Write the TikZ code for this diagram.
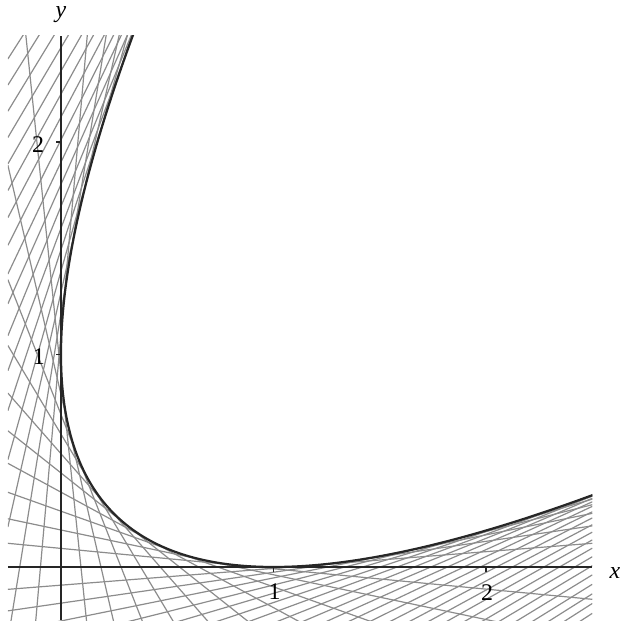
\documentclass[tikz,border=0pt]{standalone}
\usepackage{fontspec}
\setmainfont{Liberation Serif}
\begin{document}
\begin{tikzpicture}[x=106.25bp,y=106.25bp,
  tangent/.style={black!45, line width=0.6bp},
  axisline/.style={black!85, line width=1.3bp},
  tickmark/.style={black!85, line width=0.8bp},
  envelope/.style={black!85, line width=1.1bp},
  lab/.style={font=\fontsize{12}{14}\selectfont, inner sep=0pt}]
\useasboundingbox (-0.287,-0.273) rectangle (2.635,2.668);
\begin{scope}
\clip (-0.25,-0.25) rectangle (2.5,2.5);
% tangent lines x/t + y/(1-t) = 1, parameter step shrinking slowly with t
\pgfmathsetmacro\AA{1/(1-exp(-0.11))}
\foreach \k in {-20,...,38}{
  \ifnum\k=0 \else \ifnum\k=11 \else
   \pgfmathsetmacro\tt{\AA*(1-exp(-0.01*\k))}
   \pgfmathsetmacro\ya{(1-\tt)*(1+0.25/\tt)}
   \pgfmathsetmacro\yb{(1-\tt)*(1-2.5/\tt)}
   \draw[tangent] (-0.25,\ya) -- (2.5,\yb);
  \fi\fi
}
\draw[envelope, domain=-0.6:1.6, samples=150, smooth] plot ({\x*\x},{(1-\x)*(1-\x)});
\end{scope}
% axes
\coordinate (xl) at (-0.25,0);
\coordinate (xr) at (2.5,0);
\coordinate (yb) at (0,-0.25);
\coordinate (yt) at (0,2.5);
\draw[axisline] (xl) -- (xr);
\draw[axisline] (yb) -- (yt);
% ticks
\foreach \v in {1,2}{
  \draw[tickmark] (\v,0) -- (\v,-0.025);
  \draw[tickmark] (0,\v) -- (-0.025,\v);
}
\node[lab] (tx1) at (1.005,-0.118) {1};
\node[lab] (tx2) at (2.005,-0.120) {2};
\node[lab] (ty1) at (-0.104,0.988) {1};
\node[lab] (ty2) at (-0.108,1.986) {2};
\node[lab] (ylab) at (0.0,2.60) {\textit{y}};
\node[lab] (xlab) at (2.607,-0.028) {\textit{x}};
\end{tikzpicture}
\end{document}
